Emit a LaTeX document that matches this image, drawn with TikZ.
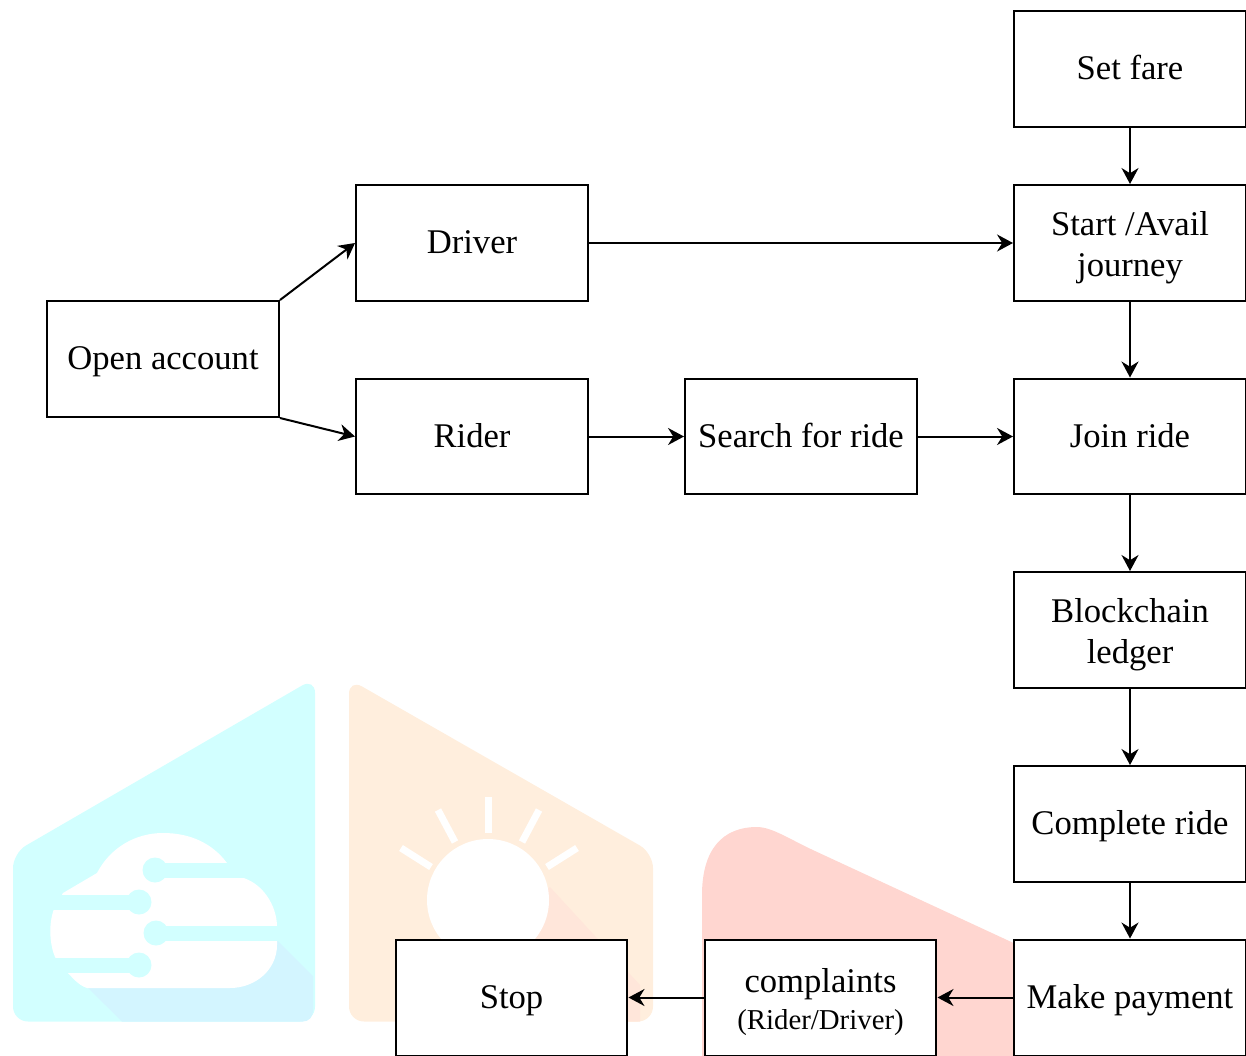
\documentclass[tikz,border=0pt]{standalone}
\usepackage{fontspec}
\setmainfont{Liberation Serif}
\usepackage{xcolor}
\usetikzlibrary{positioning}
\usetikzlibrary{arrows.meta}
\definecolor{wmcyan}{HTML}{D2FFFF}
\definecolor{wmcyandark}{HTML}{D3F5FF}
\definecolor{wmorange}{HTML}{FFEEDD}
\definecolor{wmorangedark}{HTML}{FFE6DA}
\definecolor{wmpink}{HTML}{FFD6D0}
\newcommand{\blockstrut}{\rule[-5pt]{0pt}{22.2pt}}
\newcommand{\tallstrut}{\rule{0pt}{19.5pt}}
\tikzstyle{block}=[rectangle,draw=black,fill=white,line width=0.04cm,minimum width=4.64cm,minimum height=2.32cm,inner sep=0pt,align=center,font=\fontsize{19.7}{23.2}\selectfont]
\tikzstyle{edge} = [draw,line width=0.04cm,-{Stealth[length=0.32cm,width=0.34cm]}]
\tikzstyle{wmshape} = [rounded corners=0.3cm]
\tikzstyle{ray} = [draw=white,line width=0.14cm]

\begin{document}
\begin{tikzpicture}[x=0.02cm,y=-0.02cm]

  \useasboundingbox (0,0) rectangle (1246,1055);

  % cyan mark
  \fill[wmcyan,wmshape] (13,1021.5) -- (13,853) -- (315,678) -- (315,1021.5) -- cycle;
  \fill[wmcyandark] (85,985) -- (122,1021.5) -- (303,1021.5) .. controls (309,1021.5) and (313,1017) .. (313,1010) -- (313,976) -- (277,940) -- cycle;
  \fill[white] (63,893) -- (97,873) .. controls (110,848) and (135,833) .. (163,833) .. controls (190,833) and (212,843) .. (227,863) -- (240,877) .. controls (262,882) and (277,905) .. (277,927) -- (277,945) .. controls (277,970) and (255,988) .. (230,988) -- (87,988) .. controls (78,985) and (72,977) .. (67,972) -- (55,957) .. controls (50,945) and (48,925) .. (54,909) -- cycle;
  \foreach \x/\y/\xend in {155/870/245, 139/902/40, 156/933/285, 139/965/40}
     {
     \fill[wmcyan] (\x,\y) circle (12.5);
     \fill[wmcyan] (\x,\y-7.5) rectangle (\xend,\y+7.5);
     }

  % orange mark
  \fill[wmorange,wmshape] (349,1021.5) -- (349,679) -- (653,853) -- (653,1021.5) -- cycle;
  \fill[wmorangedark] (550,887) -- (640,985) -- (640,1021.5) -- (480,1021.5) -- (480,950) -- cycle;
  \fill[white] (488,900) circle (61);
  \foreach \xa/\ya/\xb/\yb in {488/797/488/833, 438/810/455/842, 539/810/522/842, 401/848/431/867, 577/848/547/867}
     \draw[ray] (\xa,\ya) -- (\xb,\yb);

  % pink mark
  \fill[wmpink] (702,1060) -- (702,895) .. controls (702,850) and (722,827) .. (757,827) .. controls (772,827) and (790,839.5) .. (815,851) -- (1020,946) -- (1020,1060) -- cycle;

  \foreach \x/\y/\name/\label in {1130/69/setfare/{Set fare}, 1130/243/start/{\tallstrut Start /Avail\\journey}, 1130/436.5/join/{Join ride}, 1130/630/ledger/{\tallstrut Blockchain\\ledger}, 1130/824/complete/{Complete ride}, 1130/997.5/payment/{Make payment}, 472/243/driver/{Driver}, 472/436.5/rider/{Rider}, 801/436.5/search/{Search for ride}, 163/359/open/{Open account}, 511.5/997.5/stop/{Stop}}
     \node[block] (\name) at (\x,\y) {\blockstrut\label\blockstrut};

  \node[block] (complaints) at (820.5,997.5) {\rule{0pt}{20pt}complaints\\[-0.08cm]{\fontsize{16.4}{20}\selectfont (Rider/Driver)}\blockstrut};

  \foreach \source/\dest in {setfare/start, start/join, join/ledger, ledger/complete, complete/payment, payment/complaints, complaints/stop, driver/start, rider/search, search/join, open.north east/driver.west, open.south east/rider.west}
     \path[edge] (\source) -- (\dest);

\end{tikzpicture}
\end{document}
